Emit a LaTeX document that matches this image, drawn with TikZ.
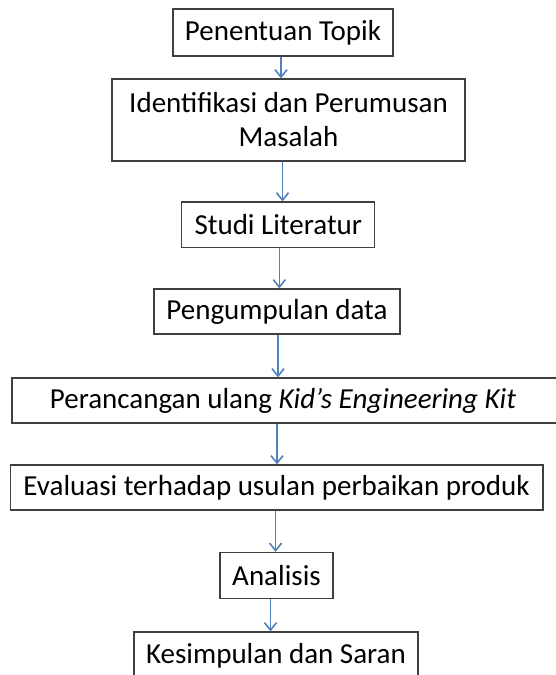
\documentclass[tikz,border=0pt]{standalone}
\usepackage{fontspec}
\setmainfont{Carlito}
\usetikzlibrary{arrows.meta}
\definecolor{arrowblue}{RGB}{79,129,189}
\definecolor{boxgray}{RGB}{64,64,64}

\begin{document}
\begin{tikzpicture}[x=1pt,y=-1pt,
   box/.style={draw=boxgray,line width=1.2pt,inner sep=0pt,align=center,
      font=\fontsize{29}{34}\selectfont},
   flow/.style={draw=arrowblue,line width=1.6pt,
      -{Straight Barb[length=7.5pt,width=12pt,line width=1.6pt]}}]
   \useasboundingbox (0,0) rectangle (556,675);
   \clip (0,0) rectangle (556,675);

   \node[box,minimum width=220pt,minimum height=47pt] (topik) at (283,32.5) {Penentuan Topik};
   \node[box,minimum width=353pt,minimum height=82pt] (masalah) at (288.5,120) {Identifikasi dan Perumusan\\Masalah};
   \node[box,minimum width=193pt,minimum height=45.5pt] (studi) at (278.3,224.8) {Studi Literatur};
   \node[box,minimum width=246pt,minimum height=45pt] (data) at (277,311.5) {Pengumpulan data};
   \node[box,minimum width=550pt,minimum height=45pt] (rancang) at (287,400.5) {\hspace*{-8pt}Perancangan ulang \textit{Kid’s Engineering Kit}};
   \node[box,minimum width=532.7pt,minimum height=45pt] (evaluasi) at (276.6,487.5) {Evaluasi terhadap usulan perbaikan produk};
   \node[box,minimum width=113pt,minimum height=46pt] (analisis) at (276.5,575.5) {Analisis};
   \node[box,minimum width=284pt,minimum height=47pt] (simpulan) at (276,655.5) {Kesimpulan dan Saran};

   % alur
   \draw[flow] ([xshift=-2pt]topik.south) -- ([xshift=-2pt]topik.south |- masalah.north);
   \draw[flow] ([xshift=-6pt]masalah.south) -- ([xshift=-6pt]masalah.south |- studi.north);
   \draw[flow] ([xshift=1pt]studi.south) -- ([xshift=1pt]studi.south |- data.north);
   \draw[flow] ([xshift=1pt]data.south) -- ([xshift=1pt]data.south |- rancang.north);
   \draw[flow] ([xshift=-10pt]rancang.south) -- ([xshift=-10pt]rancang.south |- evaluasi.north);
   \draw[flow] ([xshift=-1pt]evaluasi.south) -- ([xshift=-1pt]evaluasi.south |- analisis.north);
   \draw[flow] ([xshift=-6pt]analisis.south) -- ([xshift=-6pt]analisis.south |- simpulan.north);
\end{tikzpicture}
\end{document}
